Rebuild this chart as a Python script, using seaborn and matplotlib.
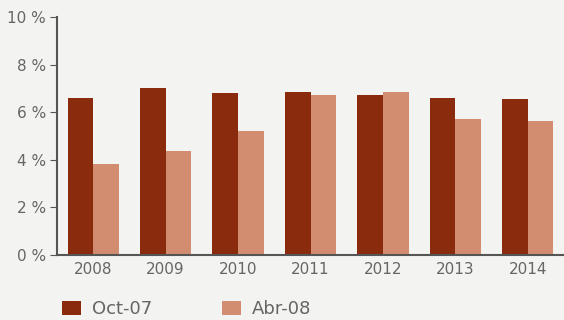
import matplotlib
matplotlib.use('Agg')
import matplotlib.pyplot as plt
import numpy as np
import pandas as pd
import seaborn as sns

years = ['2008', '2009', '2010', '2011', '2012', '2013', '2014']
oct_07 = [6.6, 7.0, 6.8, 6.84, 6.71, 6.61, 6.55]
abr_08 = [3.82, 4.37, 5.2, 6.71, 6.84, 5.71, 5.63]
series = ['Oct-07', 'Abr-08']
colors = ['#8a2b0e', '#d28c6f']
y_ticks = [0, 2, 4, 6, 8, 10]

bg = '#f3f3f1'
txt = '#666666'

sns.set_style("white")
plt.rcParams['font.family'] = ['DejaVu Sans']

df = pd.DataFrame({
    'year': years * 2,
    'value': oct_07 + abr_08,
    'serie': [series[0]] * len(years) + [series[1]] * len(years),
})

fig = plt.figure(figsize=(5.64, 3.2), dpi=100)
fig.patch.set_facecolor(bg)
ax = fig.add_axes([57 / 564, 65 / 320, 507 / 564, 238 / 320])
ax.set_facecolor(bg)

sns.barplot(data=df, x='year', y='value', hue='serie', palette=colors, width=0.71,
            saturation=1, linewidth=0, ax=ax)

ax.set_xlim(-0.5, 6.5)
ax.set_ylim(0, 10)
ax.set_yticks(y_ticks)
ax.set_yticklabels([f'{v} %' for v in y_ticks])
ax.set_xlabel('')
ax.set_ylabel('')

for s in ['top', 'right']:
    ax.spines[s].set_visible(False)
for s in ['left', 'bottom']:
    ax.spines[s].set_color('#555555')
    ax.spines[s].set_linewidth(1.5)

ax.set_xticks(np.arange(-0.5, 7, 1), minor=True)
ax.tick_params(axis='x', which='major', length=0, labelsize=11, labelcolor=txt, pad=5)
ax.tick_params(axis='x', which='minor', length=4, color='#777777', direction='out')
ax.tick_params(axis='y', length=5, color='#555555', labelsize=11, labelcolor=txt, pad=3,
               left=True)

handles, labels = ax.get_legend_handles_labels()
ax.get_legend().remove()
fig.legend(handles, labels, loc='center left', bbox_to_anchor=(62 / 564, 10.5 / 320), ncol=2,
           frameon=False, borderpad=0, borderaxespad=0, handlelength=1.05, handleheight=0.85,
           handletextpad=0.6, columnspacing=3.9, fontsize=13, labelcolor=txt)

fig.savefig('out.png', dpi=100, facecolor=bg)
